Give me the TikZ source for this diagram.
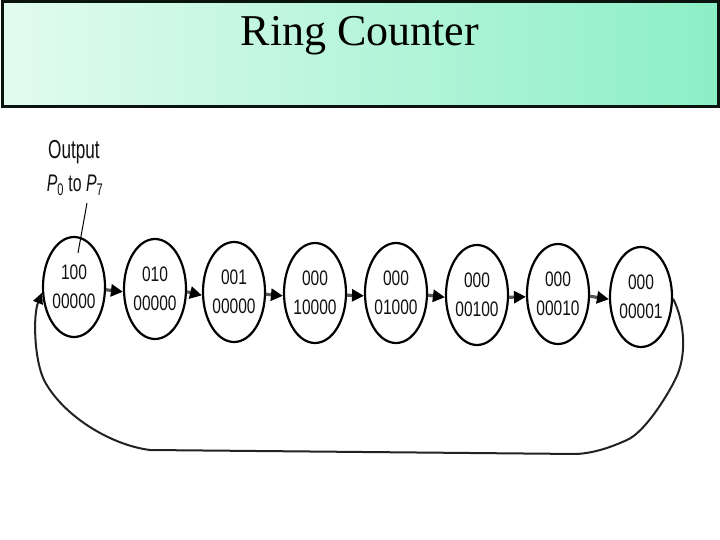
\documentclass[tikz,border=0pt]{standalone}
\usepackage{fontspec}
\setmainfont{Liberation Serif}
\newfontfamily\digitfont[FakeStretch=0.74]{Liberation Sans}
\newfontfamily\labelfont[FakeStretch=0.66]{Liberation Sans}
\usetikzlibrary{shapes.geometric,arrows.meta}
\definecolor{mintL}{HTML}{E2FBF1}
\definecolor{mintR}{HTML}{8CEFC6}
\definecolor{framecol}{HTML}{0A140F}
\definecolor{arrowgray}{HTML}{555555}
\definecolor{loopcol}{HTML}{222222}
\definecolor{txtcol}{HTML}{111111}
\tikzset{
  state/.style={ellipse, draw=black, line width=2.2pt, minimum width=62pt,
    minimum height=100pt, inner sep=0pt, align=center, text=txtcol,
    font=\digitfont\fontsize{21}{29}\selectfont},
  link/.style={draw=arrowgray, line width=3.2pt,
    -{Triangle[length=12pt,width=12pt,color=black]}},
  loopline/.style={draw=loopcol, line width=2pt,
    -{Triangle[length=11pt,width=10pt,color=black]}},
  lbltext/.style={text=txtcol, align=center, inner sep=0pt}
}
\begin{document}
\begin{tikzpicture}[x=1pt,y=-1pt]
\useasboundingbox (0,0) rectangle (720,540);
\fill[white] (0,0) rectangle (720,540);
% title box
\shade[left color=mintL, right color=mintR] (2,2) rectangle (718,107);
\draw[framecol, line width=3pt] (2,2) rectangle (718,107);
\node[anchor=base, inner sep=0pt, font=\fontsize{44}{50}\selectfont] (title) at (360,46) {Ring Counter};
% states
\node[state] (e1) at (74,287) {100\\00000};
\node[state] (e2) at (155,289) {010\\00000};
\node[state] (e3) at (234,292) {001\\00000};
\node[state] (e4) at (315,293) {000\\10000};
\node[state] (e5) at (396,293) {000\\01000};
\node[state] (e6) at (477,295) {000\\00100};
\node[state] (e7) at (558,294) {000\\00010};
\node[state] (e8) at (641,297) {000\\00001};
% links
\draw[link] (e1.-5) -- (e2.185);
\draw[link] (e2.-5) -- (e3.186);
\draw[link] (e3.-4) -- (e4.185);
\draw[link] (e4.-4) -- (e5.185);
\draw[link] (e5.-4) -- (e6.184);
\draw[link] (e6.-4) -- (e7.185);
\draw[link] (e7.-4) -- (e8.184);
% feedback loop
\draw[loopline] (e8.-3) .. controls (684,320) and (688,355) .. (675,380)
  .. controls (667,396) and (645,432) .. (627,440)
  .. controls (607,449) and (592,453) .. (577,454)
  -- (150,450)
  .. controls (110,445) and (62,415) .. (44,380)
  .. controls (34,359) and (33,315) .. (e1.190);
% output label
\node[lbltext, font=\labelfont\fontsize{26}{30}\selectfont] (lbl1) at (74,152) {Output};
\node[lbltext, font=\labelfont\fontsize{24}{28}\selectfont] (lbl2) at (75,185) {\textit{P}\textsubscript{0} to \textit{P}\textsubscript{7}};
\coordinate (ptrA) at (87,203);
\coordinate (ptrB) at (78,253);
\draw[black, line width=1pt] (ptrA) -- (ptrB);
\end{tikzpicture}
\end{document}
